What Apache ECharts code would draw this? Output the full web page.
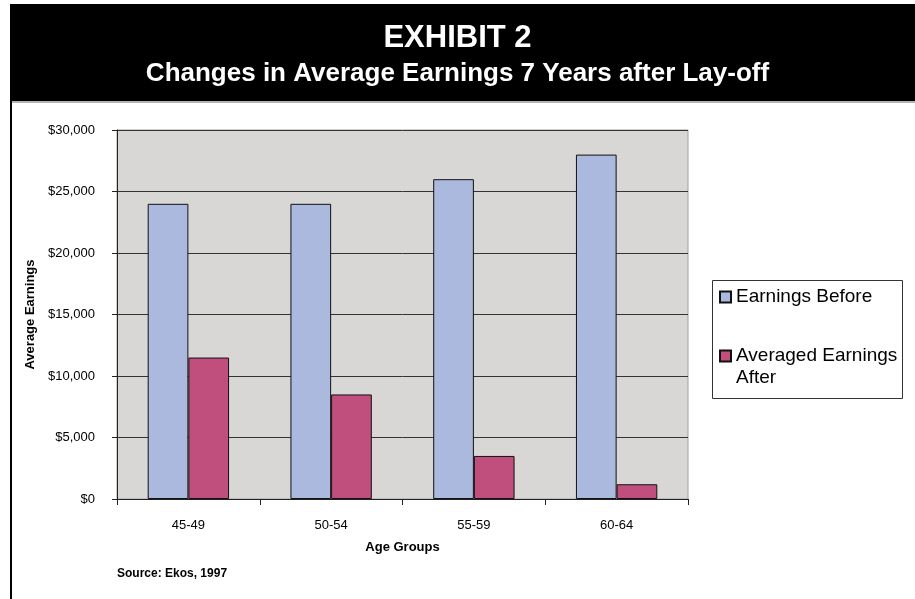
<!DOCTYPE html>
<html><head>
<meta charset="UTF-8">
<title>Exhibit 2</title>
<script src="https://cdn.jsdelivr.net/npm/echarts@6/dist/echarts.min.js"></script>
<style>html,body{margin:0;padding:0;background:#fff;}</style>
</head>
<body>
<div id="main" style="width:915px;height:599px;"></div>
<script>
var ageGroups = ['45-49', '50-54', '55-59', '60-64'];
var earningsBefore = [24000, 24000, 26000, 28000];
var earningsAfter = [11500, 8500, 3500, 1200];
var yTicks = [0, 5000, 10000, 15000, 20000, 25000, 30000];

var font = '"Liberation Sans", Arial, sans-serif';
var chart = echarts.init(document.getElementById('main'));
var option = {
    backgroundColor: '#fff',
    animation: false,
    textStyle: {fontFamily: font},
    graphic: [
        {type: 'rect', shape: {x: 10, y: 4, width: 905, height: 97}, style: {fill: '#000'}, z: 0},
        {type: 'rect', shape: {x: 10, y: 101, width: 905, height: 2}, style: {fill: '#b4b4b4'}, z: 0},
        {type: 'line', shape: {x1: 11, y1: 101, x2: 11, y2: 599}, style: {stroke: '#000', lineWidth: 2}},
        // legend frame
        {type: 'rect', shape: {x: 712.5, y: 280.5, width: 190, height: 118}, style: {fill: '#fff', stroke: '#333', lineWidth: 1}, z: 1},
        {type: 'text', left: 117, top: 568, style: {text: 'Source: Ekos, 1997', fill: '#000', font: 'bold 12px ' + font}}
    ],
    title: [
        {text: 'EXHIBIT 2', left: 'center', top: 18, textStyle: {color: '#fff', fontSize: 31, fontWeight: 'bold', fontFamily: font}},
        {text: 'Changes in Average Earnings 7 Years after Lay-off', left: 'center', top: 56, textStyle: {color: '#fff', fontSize: 26, fontWeight: 'bold', fontFamily: font}}
    ],
    legend: {
        orient: 'vertical', left: 712, top: 280,
        padding: [6, 0, 0, 7],
        itemWidth: 11, itemHeight: 11, itemGap: 15,
        icon: 'rect', z: 5,
        textStyle: {fontSize: 19, lineHeight: 22, color: '#000', fontFamily: font},
        data: ['Earnings Before', 'Averaged Earnings After'],
        formatter: function (n) { return n === 'Averaged Earnings After' ? '\nAveraged Earnings\nAfter' : n; }
    },
    grid: {left: 117, right: 227, top: 130, bottom: 100, show: true, backgroundColor: '#d8d7d5', borderColor: '#a0a0a0', borderWidth: 1},
    xAxis: {
        type: 'category', data: ageGroups,
        name: 'Age Groups', nameLocation: 'middle', nameGap: 42,
        nameTextStyle: {fontWeight: 'bold', fontSize: 13, color: '#000'},
        axisLine: {lineStyle: {color: '#222'}},
        axisTick: {show: true, length: 6, lineStyle: {color: '#222'}},
        axisLabel: {fontSize: 13, color: '#000', margin: 20}
    },
    yAxis: {
        type: 'value', min: 0, max: 30000, interval: 5000,
        name: 'Average Earnings', nameLocation: 'middle', nameGap: 76,
        nameTextStyle: {fontWeight: 'bold', fontSize: 13, color: '#000'},
        axisLine: {show: true, lineStyle: {color: '#222'}},
        axisTick: {show: true, length: 5, lineStyle: {color: '#222'}},
        splitLine: {lineStyle: {color: '#333'}},
        axisLabel: {fontSize: 13, color: '#000', margin: 22,
            formatter: function (v) { return yTicks.indexOf(v) < 0 ? '' : '$' + v.toLocaleString('en-US'); }}
    },
    series: [
        {name: 'Earnings Before', type: 'bar', data: earningsBefore, barGap: 0, barCategoryGap: '43%',
            itemStyle: {color: '#abb9de', borderColor: '#111', borderWidth: 1}},
        {name: 'Averaged Earnings After', type: 'bar', data: earningsAfter,
            itemStyle: {color: '#c04f7d', borderColor: '#111', borderWidth: 1}}
    ]
};
chart.setOption(option);
</script>
</body>
</html>
